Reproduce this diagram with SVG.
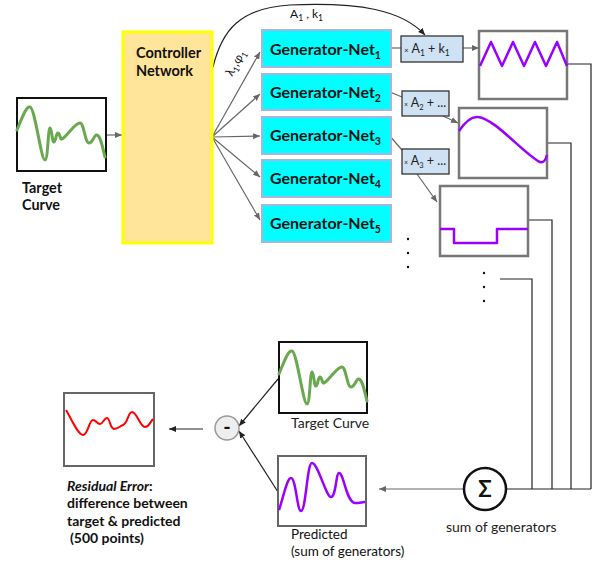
<svg xmlns="http://www.w3.org/2000/svg" width="595" height="563" viewBox="0 0 595 563">
<style>
text{font-family:Lato,"Liberation Sans",sans-serif;fill:#111}
.b{font-weight:bold}
.gen rect{fill:#00ffff;stroke:#a9b4e6;stroke-width:2}
.gen text{font-size:16px;font-weight:bold}
.mult rect{fill:#cfe2f3;stroke:#333;stroke-width:1.3}
.mult text{font-size:12.5px;fill:#222}
.cbox{fill:#fff;stroke:#777;stroke-width:2.5}
.kbox{fill:#fff;stroke:#111;stroke-width:2}
.gbox{fill:#fff;stroke:#666;stroke-width:2}
.purple{fill:none;stroke:#9900ff;stroke-width:2.5;stroke-linejoin:round}
.green{fill:none;stroke:#6aa84f;stroke-width:3;stroke-linecap:round;stroke-linejoin:round}
.red{fill:none;stroke:#ff0000;stroke-width:2}
.ga{fill:none;stroke:#666;stroke-width:1.2;marker-end:url(#ag)}
.gl{fill:none;stroke:#666;stroke-width:1.2}
.bl{fill:none;stroke:#222;stroke-width:1.2}
.ba{fill:none;stroke:#222;stroke-width:1.2;marker-end:url(#ab)}
.lbl{font-size:14px;fill:#222}
.res{font-size:14px;font-weight:bold}
</style>
<defs>
<marker id="ag" markerWidth="8" markerHeight="8" refX="7" refY="4" orient="auto" markerUnits="userSpaceOnUse"><path d="M0,1 L7,4 L0,7 Z" fill="#666"/></marker>
<marker id="ab" markerWidth="8" markerHeight="8" refX="7" refY="4" orient="auto" markerUnits="userSpaceOnUse"><path d="M0,1 L7,4 L0,7 Z" fill="#222"/></marker>
<path id="tc" d="M0,32 C5,20 9,8 13,9 C18,10 24,62 28,62 C31,62 31,30 33,30 C35,30 35,45 37,44 C39,43 39,35 41,35 C43,35 43,42 45,41 C50,38 58,25 63,25 C67,25 68,45 72,45 C76,45 77,36 80,37 C84,38 86,52 88,59"/>
</defs>

<g id="connectors">
  <line class="ga" x1="106" y1="135" x2="122" y2="135"/>
  <line class="ga" x1="212" y1="137" x2="260" y2="52"/>
  <line class="ga" x1="212" y1="137" x2="260" y2="94"/>
  <line class="ga" x1="212" y1="137" x2="260" y2="136"/>
  <line class="ga" x1="212" y1="137" x2="260" y2="177"/>
  <line class="ga" x1="212" y1="137" x2="260" y2="220"/>
  <path class="ba" d="M213,67 C222,30 240,8 290,5 C360,2 402,10 425,35"/>
  <line class="gl" x1="391" y1="48" x2="401" y2="48"/>
  <line class="ga" x1="463" y1="48" x2="479" y2="48"/>
  <line class="gl" x1="390" y1="92" x2="402" y2="97"/>
  <line class="ga" x1="443" y1="116" x2="458" y2="123"/>
  <line class="gl" x1="389" y1="135" x2="402" y2="150"/>
  <line class="ga" x1="417" y1="174" x2="437" y2="202"/>
  <polyline class="bl" points="567,64 591,64 591,489"/>
  <polyline class="bl" points="547,143 571,143 571,489"/>
  <polyline class="bl" points="528,220 552,220 552,489"/>
  <polyline class="bl" points="500,279 532,279 532,489"/>
  <line class="bl" x1="506" y1="489" x2="591" y2="489"/>
  <line class="ga" x1="464" y1="489" x2="379" y2="489"/>
  <line class="ba" x1="278" y1="379" x2="239" y2="426"/>
  <line class="ba" x1="278" y1="492" x2="239" y2="431"/>
  <line class="ba" x1="203" y1="429" x2="169" y2="429"/>
  <text x="0" y="0" font-size="12" fill="#333" transform="translate(232,77) rotate(-60)">λ<tspan font-size="8.5" dy="3">1</tspan><tspan dy="-3">,φ</tspan><tspan font-size="8.5" dy="3">1</tspan></text>
  <text x="290" y="18" font-size="12" fill="#333">A<tspan font-size="8.5" dy="3">1</tspan><tspan dy="-3"> , k</tspan><tspan font-size="8.5" dy="3">1</tspan></text>
</g>

<g id="target-top">
  <rect class="kbox" x="17" y="98" width="89" height="73"/>
  <use href="#tc" class="green" transform="translate(17,98)"/>
  <text class="b" x="22" y="193" font-size="14.4">Target</text>
  <text class="b" x="22" y="210" font-size="14.4">Curve</text>
</g>

<g id="controller">
  <rect x="123" y="32" width="89" height="211" fill="#ffe599" stroke="#ffff00" stroke-width="3"/>
  <text class="b" x="136" y="58" font-size="14.5">Controller</text>
  <text class="b" x="136" y="76" font-size="14.5">Network</text>
</g>

<g id="gen1" class="gen"><rect x="262" y="30" width="129" height="37"/><text x="270" y="55">Generator-Net<tspan font-size="10.5" dy="4">1</tspan></text></g>
<g id="gen2" class="gen"><rect x="262" y="74" width="129" height="36"/><text x="270" y="98">Generator-Net<tspan font-size="10.5" dy="4">2</tspan></text></g>
<g id="gen3" class="gen"><rect x="262" y="117" width="129" height="37"/><text x="270" y="141">Generator-Net<tspan font-size="10.5" dy="4">3</tspan></text></g>
<g id="gen4" class="gen"><rect x="262" y="160" width="129" height="37"/><text x="270" y="184">Generator-Net<tspan font-size="10.5" dy="4">4</tspan></text></g>
<g id="gen5" class="gen"><rect x="262" y="205" width="129" height="37"/><text x="270" y="229">Generator-Net<tspan font-size="10.5" dy="4">5</tspan></text></g>

<g id="mult1" class="mult"><rect x="401" y="36" width="62" height="26"/><text x="404" y="53"><tspan font-size="8">×</tspan> A<tspan font-size="8.5" dy="3">1</tspan><tspan dy="-3"> + k</tspan><tspan font-size="8.5" dy="3">1</tspan></text></g>
<g id="mult2" class="mult"><rect x="402" y="91" width="47" height="25"/><text x="404" y="107" font-size="11"><tspan font-size="7">×</tspan> A<tspan font-size="7.5" dy="3">2</tspan><tspan dy="-3"> + ...</tspan></text></g>
<g id="mult3" class="mult"><rect x="402" y="149" width="47" height="25"/><text x="404" y="165" font-size="11"><tspan font-size="7">×</tspan> A<tspan font-size="7.5" dy="3">3</tspan><tspan dy="-3"> + ...</tspan></text></g>

<g id="wave1">
  <rect class="cbox" x="479" y="31" width="88" height="68"/>
  <polyline class="purple" points="480,66 491,42 502,66 513,42 524,66 535,42 546,66 557,42 567,66"/>
</g>
<g id="wave2">
  <rect class="cbox" x="459" y="108" width="88" height="70"/>
  <path class="purple" d="M459,131 C465,122 471,116 478,117 C495,119 520,150 538,161 C542,164 545,162 547,155"/>
</g>
<g id="wave3">
  <rect class="cbox" x="440" y="186" width="88" height="70"/>
  <polyline class="purple" points="440,229 454,229 454,243 497,243 497,229 528,229"/>
</g>
<g id="dots">
  <circle cx="408" cy="239" r="1.2" fill="#111"/><circle cx="408" cy="253" r="1.2" fill="#111"/><circle cx="408" cy="267" r="1.2" fill="#111"/>
  <circle cx="484" cy="273" r="1.2" fill="#111"/><circle cx="484" cy="287" r="1.2" fill="#111"/><circle cx="484" cy="301" r="1.2" fill="#111"/>
</g>

<g id="sum">
  <circle cx="485" cy="489" r="21" fill="#fff" stroke="#111" stroke-width="2.5"/>
  <text x="485" y="497" font-size="22" font-weight="bold" text-anchor="middle">Σ</text>
  <text class="lbl" x="446" y="532">sum of generators</text>
</g>

<g id="target-bottom">
  <rect class="kbox" x="279" y="342" width="88" height="71"/>
  <use href="#tc" class="green" transform="translate(279,342)"/>
  <text class="lbl" x="291" y="428">Target Curve</text>
</g>

<g id="predicted">
  <rect class="gbox" x="278" y="456" width="88" height="70"/>
  <path class="purple" d="M279,510 C284,495 287,478 291,478 C296,478 297,511 301,511 C306,511 307,463 312,463 C318,463 326,497 331,497 C336,497 336,473 339,473 C344,473 346,502 355,503 C360,503 362,502 365,502"/>
  <text x="291" y="539" font-size="13.5" fill="#222">Predicted</text>
  <text x="291" y="556" font-size="13.5" fill="#222">(sum of generators)</text>
</g>

<g id="minus">
  <circle cx="227" cy="428" r="12" fill="#eeeeee" stroke="#999" stroke-width="1.5"/>
  <text x="227" y="434" font-size="20" font-weight="bold" text-anchor="middle">-</text>
</g>

<g id="residual">
  <rect class="gbox" x="64" y="393" width="90" height="73"/>
  <path class="red" d="M66,410 C72,420 78,435 83,435 C88,435 89,420 93,420 C96,420 97,424 100,424 C103,424 104,418 107,418 C110,418 110,429 114,429 C118,429 120,426 123,425 C128,423 128,412 132,412 C137,412 140,427 145,427 C149,427 151,421 153,419"/>
  <text class="res" x="67" y="491"><tspan font-style="italic">Residual Error</tspan>:</text>
  <text class="res" x="67" y="508">difference between</text>
  <text class="res" x="67" y="526">target &amp; predicted</text>
  <text class="res" x="70" y="543">(500 points)</text>
</g>
</svg>
